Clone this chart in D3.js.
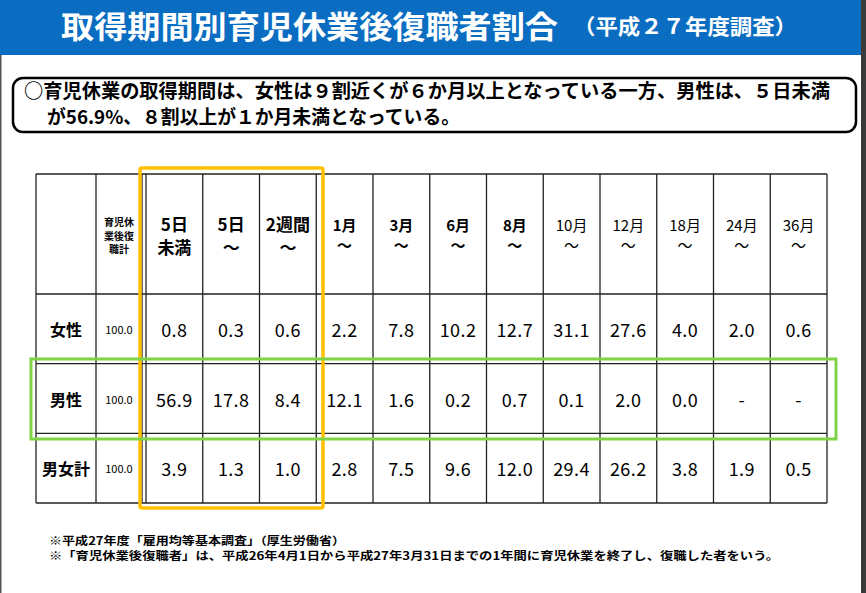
<!DOCTYPE html>
<html><head><meta charset="utf-8">
<script src="https://cdn.jsdelivr.net/npm/d3@7"></script>
<style>
html,body{margin:0;padding:0;background:#fff;}
svg{display:block;}
text{font-family:"Noto Sans CJK JP","Noto Sans",sans-serif;}
</style></head>
<body><div id="chart"></div>
<script>
// ---- data ----
const title = "取得期間別育児休業後復職者割合";
const subtitle = "（平成２７年度調査）";
const summaryLines = [
  "○育児休業の取得期間は、女性は９割近くが６か月以上となっている一方、男性は、５日未満",
  "が56.9%、８割以上が１か月未満となっている。"
];
const categories = ["5日未満","5日〜","2週間〜","1月〜","3月〜","6月〜","8月〜","10月〜","12月〜","18月〜","24月〜","36月〜"];
const headerLine1 = ["5日","5日","2週間","1月","3月","6月","8月","10月","12月","18月","24月","36月"];
const headerLine2 = ["未満","〜","〜","〜","〜","〜","〜","〜","〜","〜","〜","〜"];
const rowLabels = ["女性","男性","男女計"];
const totalHeader = ["育児休","業後復","職計"];
const totals = ["100.0","100.0","100.0"];
const female = ["0.8","0.3","0.6","2.2","7.8","10.2","12.7","31.1","27.6","4.0","2.0","0.6"];
const male   = ["56.9","17.8","8.4","12.1","1.6","0.2","0.7","0.1","2.0","0.0","-","-"];
const both   = ["3.9","1.3","1.0","2.8","7.5","9.6","12.0","29.4","26.2","3.8","1.9","0.5"];
const notes = [
  "※平成27年度「雇用均等基本調査」（厚生労働省）",
  "※「育児休業後復職者」は、平成26年4月1日から平成27年3月31日までの1年間に育児休業を終了し、復職した者をいう。"
];

// ---- layout ----
const W = 866, H = 593;
const svg = d3.select("#chart").append("svg").attr("width", W).attr("height", H);

svg.append("rect").attr("x",0).attr("y",0).attr("width",W).attr("height",H).attr("fill","#fff");
svg.append("rect").attr("x",0).attr("y",0).attr("width",1.5).attr("height",H).attr("fill","#555");
svg.append("rect").attr("x",861).attr("y",0).attr("width",5).attr("height",H).attr("fill","#3a3a3a");

// title bar
svg.append("rect").attr("x",0).attr("y",0).attr("width",861).attr("height",55).attr("fill","#0A6DC2");
svg.append("text").attr("x",61).attr("y",24).attr("dominant-baseline","central")
  .attr("fill","#fff").attr("font-size",31).attr("font-weight",700)
  .attr("textLength",497).attr("lengthAdjust","spacingAndGlyphs").text(title);
svg.append("text").attr("x",573).attr("y",25).attr("dominant-baseline","central")
  .attr("fill","#fff").attr("font-size",21).attr("font-weight",700)
  .attr("textLength",224).attr("lengthAdjust","spacingAndGlyphs").text(subtitle);

// summary box
svg.append("rect").attr("x",13).attr("y",78).attr("width",843).attr("height",54)
  .attr("rx",10).attr("fill","#fff").attr("stroke","#000").attr("stroke-width",2.5);
const sumX = [24, 47], sumY = [89, 115], sumLen = [806, 413];
summaryLines.forEach((s,i)=>{
  svg.append("text").attr("x",sumX[i]).attr("y",sumY[i]).attr("dominant-baseline","central")
    .attr("font-size",19).attr("font-weight",700).attr("fill","#000")
    .attr("textLength",sumLen[i]).attr("lengthAdjust","spacingAndGlyphs").text(s);
});

// table
const tLeft = 36, labelRight = 96, dblA = 142, dataLeft = 146, tRight = 827;
const tTop = 174, headBottom = 294, tBottom = 503;
const x = d3.scaleBand().domain(categories).range([dataLeft, tRight]);
const y = d3.scaleBand().domain(rowLabels).range([headBottom, tBottom]);
const lineColor = "#222", lw = 1.3;
const g = svg.append("g");

[tTop, headBottom, ...rowLabels.slice(1).map(r=>y(r)), tBottom].forEach(yy=>{
  g.append("line").attr("x1",tLeft).attr("x2",tRight).attr("y1",yy).attr("y2",yy)
    .attr("stroke",lineColor).attr("stroke-width",lw);
});
[tLeft, labelRight, dblA, dataLeft, ...categories.slice(1).map(c=>x(c)), tRight].forEach(xx=>{
  g.append("line").attr("x1",xx).attr("x2",xx).attr("y1",tTop).attr("y2",tBottom)
    .attr("stroke",lineColor).attr("stroke-width",lw);
});

// header small total label
const totCx = (labelRight + dblA)/2;
totalHeader.forEach((s,i)=>{
  g.append("text").attr("x",totCx).attr("y",221.5+i*13.5).attr("text-anchor","middle")
    .attr("dominant-baseline","central").attr("font-size",10).attr("font-weight",700).text(s);
});
// column headers
categories.forEach((c,i)=>{
  const cx = x(c) + x.bandwidth()/2;
  const big = i < 3;
  const bold = i < 7;
  const fs = big ? 17 : 15;
  g.append("text").attr("x",cx).attr("y",big?223:224.5).attr("text-anchor","middle")
    .attr("dominant-baseline","central").attr("font-size",fs)
    .attr("font-weight",bold?700:400).text(headerLine1[i]);
  g.append("text").attr("x",cx).attr("y",big?246.5:244.5).attr("text-anchor","middle")
    .attr("dominant-baseline","central").attr("font-size",fs)
    .attr("font-weight",bold?700:400).text(headerLine2[i]);
});

// rows
const rowsData = [female, male, both];
rowLabels.forEach((r,ri)=>{
  const cy = y(r) + y.bandwidth()/2;
  g.append("text").attr("x",(tLeft+labelRight)/2).attr("y",cy).attr("text-anchor","middle")
    .attr("dominant-baseline","central").attr("font-size",16).attr("font-weight",700).text(r);
  g.append("text").attr("x",totCx).attr("y",cy).attr("text-anchor","middle")
    .attr("dominant-baseline","central").attr("font-size",11).attr("font-family","'Noto Sans',sans-serif")
    .text(totals[ri]);
  rowsData[ri].forEach((v,ci)=>{
    g.append("text").attr("x",x(categories[ci]) + x.bandwidth()/2).attr("y",cy)
      .attr("text-anchor","middle").attr("dominant-baseline","central")
      .attr("font-size",18).attr("font-family","'Noto Sans',sans-serif").attr("letter-spacing",0.5)
      .attr("fill","#000").text(v);
  });
});

// highlight boxes
svg.append("rect").attr("x",140).attr("y",168).attr("width",183).attr("height",340)
  .attr("rx",2).attr("fill","none").attr("stroke","#FFC000").attr("stroke-width",3.5);
svg.append("rect").attr("x",31).attr("y",359).attr("width",805).attr("height",80)
  .attr("fill","none").attr("stroke","#7ED348").attr("stroke-width",3);

// notes
const noteLen = [296, 730];
notes.forEach((s,i)=>{
  svg.append("text").attr("x",49).attr("y",540+i*15).attr("dominant-baseline","central")
    .attr("font-size",11).attr("font-weight",700).attr("fill","#000")
    .attr("textLength",noteLen[i]).attr("lengthAdjust","spacingAndGlyphs").text(s);
});
</script>
</body></html>
